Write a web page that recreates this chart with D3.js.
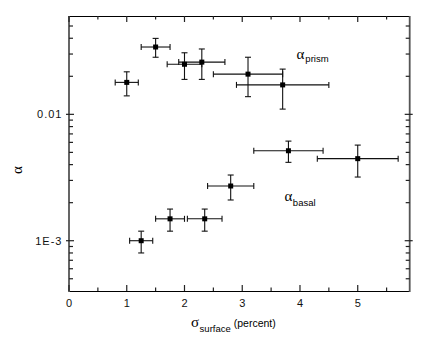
<!DOCTYPE html>
<html>

<head>
    <meta charset="utf-8">
    <style>
        body {
            margin: 0;
            background: white;
        }

        svg {
            font-family: 'Liberation Sans', Arial, sans-serif;
        }

        .tick-label {
            font-size: 11px;
            fill: #111;
        }

        .greek {
            font-family: 'Liberation Serif', 'Times New Roman', serif;
        }
    </style>
</head>

<body>
    <svg width="429" height="351"></svg>
</body>

<script src="https://d3js.org/d3.v7.min.js"></script>

<script>
    // alpha_prism points
    let prismX = [1.0, 1.5, 2.0, 2.3, 3.1, 3.7]
    let prismY = [0.0179, 0.0341, 0.0249, 0.0259, 0.0208, 0.0171]
    let prismXErr = [0.2, 0.25, 0.3, 0.4, 0.6, 0.8]
    let prismYLo = [0.0140, 0.0283, 0.0189, 0.0189, 0.0138, 0.0110]
    let prismYHi = [0.0217, 0.0399, 0.0307, 0.0329, 0.0283, 0.0228]

    // alpha_basal points
    let basalX = [1.25, 1.75, 2.35, 2.8, 3.8, 5.0]
    let basalY = [0.0010, 0.00149, 0.00149, 0.00271, 0.00515, 0.00446]
    let basalXErr = [0.2, 0.25, 0.3, 0.4, 0.6, 0.7]
    let basalYLo = [0.00080, 0.00119, 0.00119, 0.00210, 0.00417, 0.00319]
    let basalYHi = [0.00119, 0.00178, 0.00178, 0.00331, 0.00614, 0.00571]

    let xTicks = [0, 1, 2, 3, 4, 5]
    let xMinorTicks = [0.5, 1.5, 2.5, 3.5, 4.5, 5.5]
    let yTicks = [0.001, 0.01]
    let yTickLabels = ["1E-3", "0.01"]
    let yMinorTicks = [5e-4, 6e-4, 7e-4, 8e-4, 9e-4,
        0.002, 0.003, 0.004, 0.005, 0.006, 0.007, 0.008, 0.009,
        0.02, 0.03, 0.04, 0.05]

    let svg = d3.select("svg")

    let x = d3.scaleLinear()
        .domain([0, 5.9])
        .range([69, 409.7])

    let y = d3.scaleLog()
        .domain([4e-4, 0.06])
        .range([291, 16])

    let xLeft = x.range()[0], xRight = x.range()[1]
    let yTop = y.range()[1], yBottom = y.range()[0]

    // frame
    let frame = svg.append("g")
    frame.append("line")
        .attr("x1", xLeft).attr("x2", xRight).attr("y1", yTop + 0.5).attr("y2", yTop + 0.5)
        .attr("stroke", "#000").attr("stroke-width", 1)
    frame.append("line")
        .attr("x1", xLeft).attr("x2", xRight).attr("y1", yBottom + 0.5).attr("y2", yBottom + 0.5)
        .attr("stroke", "#000").attr("stroke-width", 1)
    frame.append("line")
        .attr("x1", xLeft).attr("x2", xLeft).attr("y1", yTop).attr("y2", yBottom + 1)
        .attr("stroke", "#555").attr("stroke-width", 1.8)
    frame.append("line")
        .attr("x1", xRight).attr("x2", xRight).attr("y1", yTop).attr("y2", yBottom + 1)
        .attr("stroke", "#555").attr("stroke-width", 1.8)

    // x ticks, bottom and top, pointing inside
    let xAll = xTicks.map(d => ({ v: d, len: 6 })).concat(xMinorTicks.map(d => ({ v: d, len: 3.5 })))
    frame.selectAll(".xtick-b")
        .data(xAll)
        .join("line")
        .attr("class", "xtick-b")
        .attr("x1", d => x(d.v)).attr("x2", d => x(d.v))
        .attr("y1", yBottom).attr("y2", d => yBottom - d.len)
        .attr("stroke", "#222").attr("stroke-width", 1.2)
    frame.selectAll(".xtick-t")
        .data(xAll)
        .join("line")
        .attr("class", "xtick-t")
        .attr("x1", d => x(d.v)).attr("x2", d => x(d.v))
        .attr("y1", yTop).attr("y2", d => yTop + d.len)
        .attr("stroke", "#222").attr("stroke-width", 1.2)

    svg.append("g")
        .selectAll("text")
        .data(xTicks)
        .join("text")
        .attr("class", "tick-label")
        .attr("x", d => x(d))
        .attr("y", 307)
        .attr("text-anchor", "middle")
        .text(d => d)

    // y ticks, left and right
    let yAll = yTicks.map(d => ({ v: d, major: true })).concat(yMinorTicks.map(d => ({ v: d, major: false })))
    frame.selectAll(".ytick-l")
        .data(yAll)
        .join("line")
        .attr("class", "ytick-l")
        .attr("x1", d => d.major ? xLeft - 3 : xLeft)
        .attr("x2", d => d.major ? xLeft + 5 : xLeft + 4)
        .attr("y1", d => y(d.v)).attr("y2", d => y(d.v))
        .attr("stroke", "#222").attr("stroke-width", 1.2)
    frame.selectAll(".ytick-r")
        .data(yAll)
        .join("line")
        .attr("class", "ytick-r")
        .attr("x1", d => d.major ? xRight + 3 : xRight)
        .attr("x2", d => d.major ? xRight - 5 : xRight - 4)
        .attr("y1", d => y(d.v)).attr("y2", d => y(d.v))
        .attr("stroke", "#222").attr("stroke-width", 1.2)

    svg.append("g")
        .selectAll("text")
        .data(yTicks)
        .join("text")
        .attr("class", "tick-label")
        .attr("x", 62.5)
        .attr("y", d => y(d) + 4)
        .attr("text-anchor", "end")
        .attr("letter-spacing", 1)
        .text((d, i) => yTickLabels[i])

    // error bars + markers
    function drawSeries(xs, ys, xerr, ylo, yhi) {
        let pts = xs.map((d, i) => ({ x: d, y: ys[i], xe: xerr[i], lo: ylo[i], hi: yhi[i] }))
        let g = svg.append("g")
        let bars = g.selectAll("g")
            .data(pts)
            .join("g")
            .attr("stroke", "#111")
            .attr("stroke-width", 1.1)

        bars.append("line")
            .attr("x1", d => x(d.x - d.xe)).attr("x2", d => x(d.x + d.xe))
            .attr("y1", d => y(d.y)).attr("y2", d => y(d.y))
        bars.append("line")
            .attr("x1", d => x(d.x - d.xe)).attr("x2", d => x(d.x - d.xe))
            .attr("y1", d => y(d.y) - 3).attr("y2", d => y(d.y) + 3)
        bars.append("line")
            .attr("x1", d => x(d.x + d.xe)).attr("x2", d => x(d.x + d.xe))
            .attr("y1", d => y(d.y) - 3).attr("y2", d => y(d.y) + 3)
        bars.append("line")
            .attr("x1", d => x(d.x)).attr("x2", d => x(d.x))
            .attr("y1", d => y(d.lo)).attr("y2", d => y(d.hi))
        bars.append("line")
            .attr("x1", d => x(d.x) - 3).attr("x2", d => x(d.x) + 3)
            .attr("y1", d => y(d.lo)).attr("y2", d => y(d.lo))
        bars.append("line")
            .attr("x1", d => x(d.x) - 3).attr("x2", d => x(d.x) + 3)
            .attr("y1", d => y(d.hi)).attr("y2", d => y(d.hi))

        g.selectAll("rect")
            .data(pts)
            .join("rect")
            .attr("x", d => x(d.x) - 2.5)
            .attr("y", d => y(d.y) - 2.5)
            .attr("width", 5)
            .attr("height", 5)
            .attr("fill", "#000")
    }

    drawSeries(prismX, prismY, prismXErr, prismYLo, prismYHi)
    drawSeries(basalX, basalY, basalXErr, basalYLo, basalYHi)

    // series labels
    let lab1 = svg.append("text").attr("x", 296.5).attr("y", 58.5)
    lab1.append("tspan").attr("class", "greek").attr("font-size", 15).text("α")
    lab1.append("tspan").attr("font-size", 9.5).attr("dy", 3.5).attr("dx", 1).text("prism")

    let lab2 = svg.append("text").attr("x", 284.5).attr("y", 200.5)
    lab2.append("tspan").attr("class", "greek").attr("font-size", 15).text("α")
    lab2.append("tspan").attr("font-size", 9.5).attr("dy", 5).attr("dx", 0.5).text("basal")

    // axis titles
    let xt = svg.append("text").attr("x", 191).attr("y", 327)
    xt.append("tspan").attr("class", "greek").attr("font-size", 15).text("σ")
    xt.append("tspan").attr("font-size", 9.5).attr("dy", 5).attr("dx", 0.5).text("surface")
    xt.append("tspan").attr("font-size", 10.5).attr("dy", -5).attr("dx", 3).text("(percent)")

    svg.append("text")
        .attr("class", "greek")
        .attr("font-size", 15)
        .attr("text-anchor", "middle")
        .attr("transform", "translate(22,170) rotate(-90)")
        .text("α")
</script>

</html>
